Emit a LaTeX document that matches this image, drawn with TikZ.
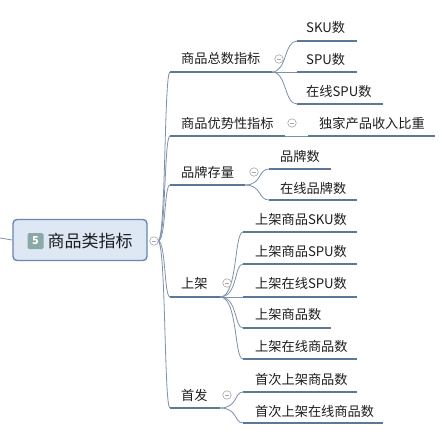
\documentclass[tikz,border=0pt]{standalone}
\usepackage{fontspec}
\setmainfont{Noto Sans CJK SC}
\begin{document}
\definecolor{uline}{RGB}{92,120,152}
\definecolor{thin}{RGB}{125,145,170}
\definecolor{rootfill}{RGB}{222,232,244}
\definecolor{rootdraw}{RGB}{105,135,175}
\definecolor{badge}{RGB}{138,168,166}
\definecolor{txt}{RGB}{30,30,30}
\begin{tikzpicture}[x=1pt,y=-1pt,
  topic/.style={anchor=west,inner sep=0pt,text=txt,font=\fontsize{13.2}{15}\selectfont},
  ul/.style={draw=uline,line width=2.6pt},
  conn/.style={draw=thin,line width=0.8pt},
  fold/.style={circle,draw=gray!70,fill=white,line width=0.6pt,minimum size=8.5pt,inner sep=0pt,
    path picture={\draw[gray!70,line width=0.6pt] ([xshift=-2.2pt]path picture bounding box.center) -- ([xshift=2.2pt]path picture bounding box.center);}}]
\useasboundingbox[fill=white] (0,0) rectangle (442,440);

% root
\coordinate (lin) at (0,238);
\node[draw=rootdraw,fill=rootfill,line width=1.4pt,rounded corners=4pt,minimum width=134pt,minimum height=41pt,inner sep=0pt] (root) at (80,240) {};
\node[fill=badge,rounded corners=1.5pt,minimum width=16pt,minimum height=16pt,inner sep=0pt,text=white,font=\bfseries\fontsize{11}{12}\selectfont] (badge) at (35.5,241) {5};
\node[anchor=west,inner sep=0pt,text=txt,font=\fontsize{17}{19}\selectfont] (rt) at (47.5,241) {商品类指标};
\draw[conn] (lin) -- (root.west);
\coordinate (rc) at (158,241);

% branch 1
\node[topic] (b1) at (181,58) {商品总数指标};
\coordinate (b1s) at (170,72); \coordinate (b1e) at (272,72);
\node[topic] (c11) at (306,27) {SKU数};
\node[topic] (c12) at (306,59) {SPU数};
\node[topic] (c13) at (306,91) {在线SPU数};
\coordinate (c11s) at (297,41); \coordinate (c11e) at (357,41);
\coordinate (c12s) at (297,72); \coordinate (c12e) at (357,72);
\coordinate (c13s) at (297,104); \coordinate (c13e) at (383,104);

% branch 2
\node[topic] (b2) at (181,123) {商品优势性指标};
\coordinate (b2s) at (170,136); \coordinate (b2e) at (285,136);
\node[topic] (c21) at (319,123) {独家产品收入比重};
\coordinate (c21s) at (308,136); \coordinate (c21e) at (435,136);

% branch 3
\node[topic] (b3) at (181,172) {品牌存量};
\coordinate (b3s) at (170,185); \coordinate (b3e) at (245,185);
\node[topic] (c31) at (280,156) {品牌数};
\node[topic] (c32) at (280,188) {在线品牌数};
\coordinate (c31s) at (269,169); \coordinate (c31e) at (331,169);
\coordinate (c32s) at (269,200); \coordinate (c32e) at (357,200);

% branch 4
\node[topic] (b4) at (181,283) {上架};
\coordinate (b4s) at (170,297); \coordinate (b4e) at (220,297);
\node[topic] (c41) at (255,219) {上架商品SKU数};
\node[topic] (c42) at (255,251) {上架商品SPU数};
\node[topic] (c43) at (255,283) {上架在线SPU数};
\node[topic] (c44) at (255,314) {上架商品数};
\node[topic] (c45) at (255,346) {上架在线商品数};
\coordinate (c41s) at (243,232); \coordinate (c41e) at (357,232);
\coordinate (c42s) at (243,264); \coordinate (c42e) at (357,264);
\coordinate (c43s) at (243,297); \coordinate (c43e) at (357,297);
\coordinate (c44s) at (243,328); \coordinate (c44e) at (331,328);
\coordinate (c45s) at (243,359); \coordinate (c45e) at (357,359);

% branch 5
\node[topic] (b5) at (181,395) {首发};
\coordinate (b5s) at (170,408); \coordinate (b5e) at (220,408);
\node[topic] (c51) at (255,379) {首次上架商品数};
\node[topic] (c52) at (255,411) {首次上架在线商品数};
\coordinate (c51s) at (243,392); \coordinate (c51e) at (357,392);
\coordinate (c52s) at (243,423); \coordinate (c52e) at (383,423);

% trunk connectors
\foreach \b/\y in {b1s/72,b2s/136,b3s/185,b4s/297,b5s/408}
  \draw[conn] (rc) .. controls (166,241) and (164,\y) .. (\b);

% branch connectors
\draw[conn] (b1e) -- (c12s);
\draw[conn] (b1e) .. controls (287,72) and (284,41) .. (c11s);
\draw[conn] (b1e) .. controls (287,72) and (284,104) .. (c13s);
\draw[conn] (b2e) -- (c21s);
\draw[conn] (b3e) .. controls (262,185) and (258,169) .. (c31s);
\draw[conn] (b3e) .. controls (262,185) and (258,200) .. (c32s);
\foreach \c/\y in {c41s/232,c42s/264,c44s/328,c45s/359}
  \draw[conn] (b4e) .. controls (238,297) and (234,\y) .. (\c);
\draw[conn] (b4e) -- (c43s);
\draw[conn] (b5e) .. controls (238,408) and (234,392) .. (c51s);
\draw[conn] (b5e) .. controls (238,408) and (234,423) .. (c52s);

% underlines
\foreach \s/\e in {b1s/b1e,b2s/b2e,b3s/b3e,b4s/b4e,b5s/b5e,
  c11s/c11e,c12s/c12e,c13s/c13e,c21s/c21e,c31s/c31e,c32s/c32e,
  c41s/c41e,c42s/c42e,c43s/c43e,c44s/c44e,c45s/c45e,c51s/c51e,c52s/c52e}
  \draw[ul] (\s) -- (\e);

% fold markers
\node[fold] (f0) at (154,241) {};
\node[fold] (f1) at (279,59) {};
\node[fold] (f2) at (292,123) {};
\node[fold] (f3) at (254,172) {};
\node[fold] (f4) at (227,283) {};
\node[fold] (f5) at (227,395) {};
\end{tikzpicture}
\end{document}
